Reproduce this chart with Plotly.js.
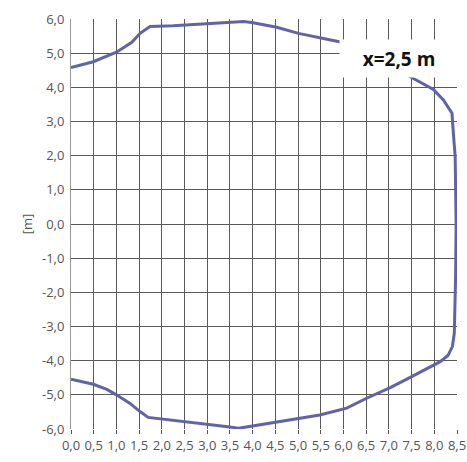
<!DOCTYPE html>
<html>
<head>
<meta charset="utf-8">
<script src="https://cdn.plot.ly/plotly-3.0.1.min.js"></script>
<style>
html,body{margin:0;padding:0;background:#fff;}
#chart{width:467px;height:462px;}
</style>
</head>
<body>
<div id="chart"></div>
<script>
// Profile of the cross-section (x = 2,5 m)
const profileX = [0, 0.49, 1.0, 1.34, 1.52, 1.74, 2.25, 2.99, 3.5, 3.8, 3.98, 4.53, 5.01, 5.96,
  7.47, 7.98, 8.2, 8.39, 8.42, 8.46, 8.48, 8.47, 8.44, 8.4, 8.3, 8.13,
  7.47, 7.03, 6.51, 6.07, 5.48, 5.01, 4.53, 4.02, 3.69, 3.5, 2.99, 2.47, 2.03, 1.7, 1.52, 1.3, 1.0, 0.79, 0.49, 0];
const profileY = [4.58, 4.75, 5.03, 5.32, 5.58, 5.78, 5.80, 5.87, 5.92, 5.93, 5.90, 5.76, 5.58, 5.32,
  4.31, 3.94, 3.63, 3.24, 2.65, 1.97, 0.02, -1.5, -3.2, -3.58, -3.85, -4.03,
  -4.49, -4.79, -5.10, -5.39, -5.59, -5.69, -5.81, -5.91, -5.98, -5.94, -5.86, -5.79, -5.71, -5.66, -5.49, -5.25, -5.0, -4.84, -4.69, -4.54];

const xTickVals = [0, 0.5, 1, 1.5, 2, 2.5, 3, 3.5, 4, 4.5, 5, 5.5, 6, 6.5, 7, 7.5, 8, 8.5];
const xTickText = ['0,0','0,5','1,0','1,5','2,0','2,5','3,0','3,5','4,0','4,5','5,0','5,5','6,0','6,5','7,0','7,5','8,0','8,5'];
const xGridVals = [0, 0.5, 1, 1.5, 2, 2.5, 3, 3.5, 4, 4.5, 5, 5.5, 6, 6.5, 7, 7.5, 8];
const yTickVals = [-6, -5, -4, -3, -2, -1, 0, 1, 2, 3, 4, 5, 6];
const yTickText = ['-6,0','-5,0','-4,0','-3,0','-2,0','-1,0','0,0','1,0','2,0','3,0','4,0','5,0','6,0'];
const yGridVals = [-5, -4, -3, -2, -1, 0, 1, 2, 3, 4, 5, 6];
const labelText = 'x=2,5 m';
const axisTitle = '[m]';

const tickFont = {family: 'Open Sans, sans-serif', size: 13, color: '#555'};
const gridColor = '#5a5a5a';

const traces = [
  {x: profileX, y: profileY, type: 'scatter', mode: 'lines',
   line: {color: '#6262a8', width: 3}, showlegend: false, hoverinfo: 'skip'},
  {x: [], y: [], xaxis: 'x2', yaxis: 'y2', type: 'scatter', mode: 'lines', showlegend: false, hoverinfo: 'skip'}
];

const layout = {
  width: 467, height: 462,
  margin: {l: 71, r: 10, t: 19, b: 33},
  paper_bgcolor: '#fff', plot_bgcolor: '#fff',
  showlegend: false,
  xaxis: {range: [0, 8.5], tickvals: xGridVals, showticklabels: false, ticks: '',
    showgrid: true, gridcolor: gridColor, gridwidth: 1, zeroline: false, showline: false, fixedrange: true},
  yaxis: {range: [-6, 6], tickvals: yGridVals, showticklabels: false, ticks: '',
    showgrid: true, gridcolor: gridColor, gridwidth: 1, zeroline: false, showline: false, fixedrange: true},
  xaxis2: {overlaying: 'x', anchor: 'y2', range: [0, 8.5], tickvals: xTickVals, ticktext: xTickText,
    showgrid: false, zeroline: false, showline: false, ticks: 'outside', ticklen: 4, tickwidth: 1,
    tickcolor: '#555', tickfont: tickFont, fixedrange: true},
  yaxis2: {overlaying: 'y', anchor: 'x2', side: 'left', range: [-6, 6], tickvals: yTickVals, ticktext: yTickText,
    showgrid: false, zeroline: false, showline: true, linecolor: '#999', linewidth: 1,
    ticks: 'outside', ticklen: 3, tickcolor: 'rgba(0,0,0,0)', tickfont: tickFont,
    title: {text: axisTitle, font: tickFont, standoff: 6}, fixedrange: true},
  annotations: [
    {text: '<b>' + labelText + '</b>', xref: 'paper', yref: 'paper', x: 0.85, y: 0.904,
     xanchor: 'center', yanchor: 'middle', showarrow: false, bgcolor: '#ffffff',
     width: 114, height: 33, borderpad: 2, align: 'center', valign: 'middle',
     font: {family: 'Open Sans, sans-serif', size: 19, color: '#111'}},
    {text: axisTitle, xref: 'paper', yref: 'paper', x: 0.534, y: -0.063,
     xanchor: 'center', yanchor: 'top', showarrow: false, font: tickFont}
  ]
};

Plotly.newPlot('chart', traces, layout, {staticPlot: true, displayModeBar: false});
</script>
</body>
</html>
